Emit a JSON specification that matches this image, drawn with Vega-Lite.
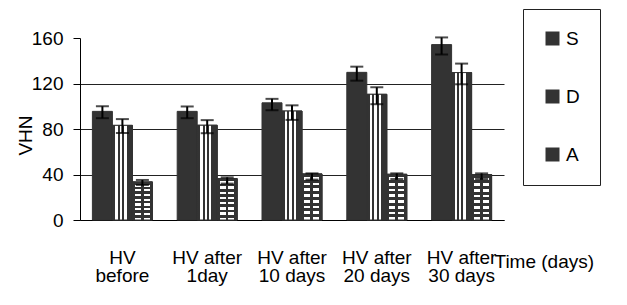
{
  "$schema": "https://vega.github.io/schema/vega-lite/v6.json",
  "autosize": {"type": "none"},
  "padding": {"left": 80, "top": 38, "right": 123, "bottom": 85},
  "width": 424,
  "height": 182,
  "background": "#ffffff",
  "config": {
    "font": "Liberation Sans",
    "view": {"stroke": null},
    "axisY": {"tickCount": 8, "labelOverlap": false}
  },
  "data": {
    "values": [
      {"time": "HV before", "series": "S", "value": 95.5, "lo": 89.5, "hi": 100},
      {"time": "HV before", "series": "D", "value": 83.2, "lo": 76.5, "hi": 88.7},
      {"time": "HV before", "series": "A", "value": 33.5, "lo": 30.8, "hi": 35.2},
      {"time": "HV after 1day", "series": "S", "value": 95.5, "lo": 89.5, "hi": 99.8},
      {"time": "HV after 1day", "series": "D", "value": 83.3, "lo": 76.3, "hi": 87.8},
      {"time": "HV after 1day", "series": "A", "value": 36.4, "lo": 32, "hi": 37.5},
      {"time": "HV after 10 days", "series": "S", "value": 103, "lo": 96.5, "hi": 106.5},
      {"time": "HV after 10 days", "series": "D", "value": 95.8, "lo": 88, "hi": 100.8},
      {"time": "HV after 10 days", "series": "A", "value": 40.5, "lo": 35.5, "hi": 41},
      {"time": "HV after 20 days", "series": "S", "value": 129.8, "lo": 122.5, "hi": 134.8},
      {"time": "HV after 20 days", "series": "D", "value": 110.5, "lo": 101.8, "hi": 116.7},
      {"time": "HV after 20 days", "series": "A", "value": 40.2, "lo": 36, "hi": 41},
      {"time": "HV after 30 days", "series": "S", "value": 154.2, "lo": 145.5, "hi": 160.5},
      {"time": "HV after 30 days", "series": "D", "value": 129.6, "lo": 119.3, "hi": 137.5},
      {"time": "HV after 30 days", "series": "A", "value": 40, "lo": 36, "hi": 41}
    ]
  },
  "encoding": {
    "x": {
      "field": "time", "type": "nominal",
      "scale": {"domain": ["HV before", "HV after 1day", "HV after 10 days", "HV after 20 days", "HV after 30 days"], "paddingInner": 0, "paddingOuter": 0},
      "axis": {
        "title": "Time (days)",
        "domainColor": "#000000", "ticks": false, "tickSize": 0,
        "labelAngle": 0, "labelFontSize": 19, "labelColor": "#000000", "labelPadding": 43, "labelBaseline": "alphabetic",
        "labelExpr": "datum.value == 'HV before' ? 'HV' : 'HV after'",
        "titleFontSize": 19, "titleFontWeight": "normal", "titleColor": "#000000",
        "titleX": 414, "titleY": 47, "titleAlign": "left", "titleBaseline": "alphabetic",
        "grid": false
      }
    },
    "xOffset": {"field": "series", "type": "nominal", "scale": {"domain": ["S", "D", "A"], "paddingInner": 0, "paddingOuter": 0.62}}
  },
  "layer": [
    {
      "mark": {"type": "bar", "stroke": "#333333", "strokeWidth": 1},
      "encoding": {
        "y": {
          "field": "value", "type": "quantitative",
          "scale": {"domain": [0, 160], "nice": false},
          "axis": {
            "title": "VHN", "values": [0, 20, 40, 60, 80, 100, 120, 140, 160], "tickCount": 8, "labelOverlap": false,
            "domainColor": "#000000", "tickColor": "#000000", "tickSize": 7,
            "labelFontSize": 19, "labelPadding": 10, "labelColor": "#000000",
            "grid": true, "gridColor": "#222222",
            "gridOpacity": {"condition": {"test": "datum.value >= 160", "value": 0}, "value": 1},
            "titleFontSize": 19, "titleFontWeight": "normal", "titleColor": "#000000",
            "titleAngle": 270, "titleX": -55, "titleY": 97, "titleAlign": "center", "titleBaseline": "middle"
          }
        },
        "fill": {
          "field": "series", "type": "nominal",
          "scale": {"domain": ["S", "D", "A"], "range": ["#333333", "#333333", "#333333"]},
          "legend": {
            "title": null, "orient": "none", "legendX": 443, "legendY": -29,
            "padding": 20, "strokeColor": "#222222", "fillColor": "#ffffff",
            "symbolType": "square", "symbolSize": 196, "symbolStrokeWidth": 0,
            "labelFontSize": 19, "labelColor": "#000000", "labelOffset": 4, "rowPadding": 38
          }
        }
      }
    },
    {
      "transform": [{"filter": "datum.series === 'D'"}],
      "mark": {"type": "bar", "stroke": "#333333", "strokeWidth": 1,
        "fill": {"gradient": "linear", "x1": 0, "y1": 0, "x2": 1, "y2": 0, "stops": [
          {"offset": 0, "color": "#333333"}, {"offset": 0.15, "color": "#333333"}, {"offset": 0.15, "color": "#ffffff"}, {"offset": 0.27, "color": "#ffffff"},
          {"offset": 0.27, "color": "#333333"}, {"offset": 0.37, "color": "#333333"}, {"offset": 0.37, "color": "#ffffff"}, {"offset": 0.49, "color": "#ffffff"},
          {"offset": 0.49, "color": "#333333"}, {"offset": 0.59, "color": "#333333"}, {"offset": 0.59, "color": "#ffffff"}, {"offset": 0.71, "color": "#ffffff"},
          {"offset": 0.71, "color": "#333333"}, {"offset": 1, "color": "#333333"}]}},
      "encoding": {"y": {"field": "value", "type": "quantitative"}}
    },
    {
      "transform": [{"filter": "datum.series === 'A'"}],
      "mark": {"type": "bar", "stroke": "#333333", "strokeWidth": 1,
        "fill": {"gradient": "linear", "x1": 0, "y1": 0, "x2": 1, "y2": 0, "stops": [
          {"offset": 0, "color": "#333333"}, {"offset": 0.12, "color": "#333333"}, {"offset": 0.12, "color": "#ffffff"}, {"offset": 0.42, "color": "#ffffff"},
          {"offset": 0.42, "color": "#333333"}, {"offset": 0.56, "color": "#333333"}, {"offset": 0.56, "color": "#ffffff"}, {"offset": 0.86, "color": "#ffffff"},
          {"offset": 0.86, "color": "#333333"}, {"offset": 1, "color": "#333333"}]}},
      "encoding": {"y": {"field": "value", "type": "quantitative"}}
    },
    {
      "transform": [{"filter": "datum.series === 'A'"}],
      "mark": {"type": "bar", "strokeWidth": 0,
        "fill": {"gradient": "linear", "x1": 0, "y1": 0, "x2": 0, "y2": 1, "stops": [
          {"offset": 0, "color": "#333333"}, {"offset": 0.07, "color": "#333333"}, {"offset": 0.07, "color": "rgba(51,51,51,0)"}, {"offset": 0.125, "color": "rgba(51,51,51,0)"},
          {"offset": 0.125, "color": "#333333"}, {"offset": 0.19, "color": "#333333"}, {"offset": 0.19, "color": "rgba(51,51,51,0)"}, {"offset": 0.25, "color": "rgba(51,51,51,0)"},
          {"offset": 0.25, "color": "#333333"}, {"offset": 0.315, "color": "#333333"}, {"offset": 0.315, "color": "rgba(51,51,51,0)"}, {"offset": 0.375, "color": "rgba(51,51,51,0)"},
          {"offset": 0.375, "color": "#333333"}, {"offset": 0.44, "color": "#333333"}, {"offset": 0.44, "color": "rgba(51,51,51,0)"}, {"offset": 0.5, "color": "rgba(51,51,51,0)"},
          {"offset": 0.5, "color": "#333333"}, {"offset": 0.565, "color": "#333333"}, {"offset": 0.565, "color": "rgba(51,51,51,0)"}, {"offset": 0.625, "color": "rgba(51,51,51,0)"},
          {"offset": 0.625, "color": "#333333"}, {"offset": 0.69, "color": "#333333"}, {"offset": 0.69, "color": "rgba(51,51,51,0)"}, {"offset": 0.75, "color": "rgba(51,51,51,0)"},
          {"offset": 0.75, "color": "#333333"}, {"offset": 0.815, "color": "#333333"}, {"offset": 0.815, "color": "rgba(51,51,51,0)"}, {"offset": 0.875, "color": "rgba(51,51,51,0)"},
          {"offset": 0.875, "color": "#333333"}, {"offset": 0.94, "color": "#333333"}, {"offset": 0.94, "color": "rgba(51,51,51,0)"}, {"offset": 1, "color": "rgba(51,51,51,0)"}]}},
      "encoding": {"y": {"field": "value", "type": "quantitative"}}
    },
    {
      "mark": {"type": "rule", "color": "#000000", "strokeWidth": 2},
      "encoding": {"y": {"field": "lo", "type": "quantitative"}, "y2": {"field": "hi"}}
    },
    {
      "mark": {"type": "tick", "color": "#000000", "size": 13, "thickness": 2},
      "encoding": {"y": {"field": "lo", "type": "quantitative"}}
    },
    {
      "mark": {"type": "tick", "color": "#000000", "size": 13, "thickness": 2},
      "encoding": {"y": {"field": "hi", "type": "quantitative"}}
    },
    {
      "transform": [
        {"filter": "datum.series === 'S'"},
        {"calculate": "datum.time == 'HV before' ? 'before' : slice(datum.time, 9)", "as": "line2"}
      ],
      "mark": {"type": "text", "fontSize": 19, "color": "#000000", "baseline": "alphabetic", "align": "center", "dy": 62},
      "encoding": {
        "xOffset": {"value": 42.4},
        "y": {"datum": 0, "type": "quantitative"},
        "text": {"field": "line2", "type": "nominal"}
      }
    }
  ]
}
